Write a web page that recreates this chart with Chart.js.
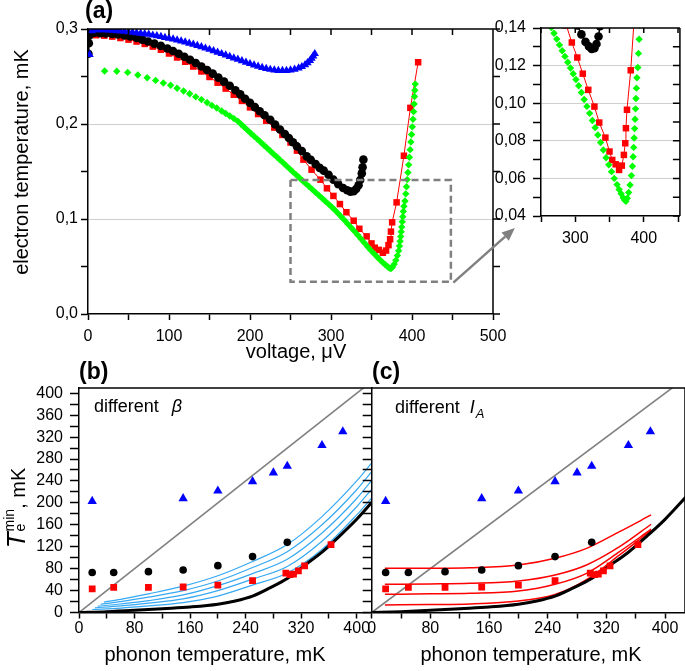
<!DOCTYPE html>
<html>
<head>
<meta charset="utf-8">
<title>Electron temperature minimum</title>
<script src="https://cdn.jsdelivr.net/npm/chart.js@4.4.1/dist/chart.umd.min.js"></script>
<style>
  html, body { margin: 0; padding: 0; background: #fff; }
  body { position: relative; width: 685px; height: 671px; overflow: hidden;
         font-family: "Liberation Sans", Arial, sans-serif; color: #000; }
  canvas { position: absolute; }
  .txt { position: absolute; line-height: 1; white-space: nowrap; }
  .panel { font-weight: bold; font-size: 23px; }
  .title { font-size: 20px; }
  .rot { transform: translate(-50%, -50%) rotate(-90deg); }
  .note { font-size: 18px; }
  .ss { display: inline-block; font-size: 14px; line-height: 0.8; margin-left: 1px; }
  .ss span { display: block; }
</style>
</head>
<body>
<canvas id="chartA" width="530" height="365" style="left:0;top:0"></canvas>
<canvas id="chartInset" width="245" height="260" style="left:440px;top:0"></canvas>
<canvas id="chartB" width="372" height="301" style="left:0;top:370px"></canvas>
<canvas id="chartC" width="330" height="301" style="left:355px;top:370px"></canvas>

<div class="txt panel" style="left:85px;top:-1px">(a)</div>
<div class="txt panel" style="left:79px;top:360px">(b)</div>
<div class="txt panel" style="left:372px;top:360px">(c)</div>

<div class="txt title rot" style="left:21px;top:162px">electron temperature, mK</div>
<div class="txt title" style="left:296px;top:341px;transform:translateX(-50%)">voltage, μV</div>

<div class="txt rot" style="left:16px;top:508px;font-size:20px"><i style="font-size:26px">T</i><span class="ss"><span>min</span><span>e</span></span>, mK</div>
<div class="txt title" style="left:215px;top:644px;transform:translateX(-50%)">phonon temperature, mK</div>
<div class="txt title" style="left:531px;top:644px;transform:translateX(-50%)">phonon temperature, mK</div>

<div class="txt note" style="left:94px;top:397px">different<i style="margin-left:13px">β</i></div>
<div class="txt note" style="left:395px;top:398px">different<i style="margin-left:10px">I</i><i style="font-size:13px;position:relative;top:5px;margin-left:1px">A</i></div>

<script>
// ---- panel (a): electron temperature (mK) vs bias voltage (uV) ----
const blueV = [2, 5, 10, 15, 20, 25, 30, 35, 40, 45, 50, 55, 60, 65, 70, 75, 80, 85, 90, 95,
  100, 105, 110, 115, 120, 125, 130, 135, 140, 145, 150, 155, 160, 165, 170, 175, 180, 185, 190, 195,
  200, 205, 210, 215, 220, 225, 230, 235, 240, 245, 250, 255, 260, 264, 268, 271, 274, 276, 278, 280];
const blueT = [0.273, 0.298, 0.299, 0.299, 0.299, 0.2988, 0.2985, 0.298, 0.298, 0.2975, 0.297, 0.2965, 0.296, 0.2955, 0.295, 0.2943, 0.2935, 0.2928, 0.292, 0.291,
  0.2902, 0.2893, 0.2884, 0.2873, 0.2862, 0.285, 0.2838, 0.2825, 0.2812, 0.2798, 0.2785, 0.277, 0.2755, 0.274, 0.2725, 0.271, 0.2695, 0.268, 0.2665, 0.265,
  0.2635, 0.262, 0.2607, 0.2595, 0.2583, 0.2574, 0.2567, 0.2563, 0.2562, 0.2563, 0.2567, 0.2575, 0.2588, 0.2603, 0.2622, 0.2643, 0.2667, 0.269, 0.2715, 0.274];

const blackV = [0.5, 1, 1.5, 4, 8, 15, 22, 30, 37, 45, 52, 60, 67, 74, 82, 90, 98, 105, 112, 119,
  126, 133, 140, 147, 154, 161, 168, 175, 182, 188, 194, 200, 206, 212, 218, 225, 231, 237, 243, 248,
  253, 258, 264, 270, 275, 281, 286, 291, 297, 303, 309, 315, 320, 324, 328, 331, 334, 336, 338, 339, 340];
const blackT = [0.274, 0.285, 0.293, 0.2955, 0.296, 0.2957, 0.2953, 0.2948, 0.2943, 0.2933, 0.2922, 0.2905, 0.2888, 0.2868, 0.2846, 0.2822, 0.2795, 0.2768, 0.274, 0.2708,
  0.2676, 0.2642, 0.2606, 0.2568, 0.253, 0.2488, 0.2446, 0.2402, 0.2356, 0.2312, 0.2266, 0.2222, 0.2178, 0.2135, 0.2092, 0.2045, 0.1994, 0.1942, 0.1894, 0.1853,
  0.1808, 0.1764, 0.1715, 0.1659, 0.1622, 0.1578, 0.1538, 0.1509, 0.1465, 0.1414, 0.1366, 0.1326, 0.1302, 0.1288, 0.1292, 0.1315, 0.1355, 0.141, 0.148, 0.1545, 0.1625];

const redV = [10, 20, 30, 40, 50, 60, 70, 80, 90, 100, 110, 120, 130, 140, 150, 160, 170, 180, 190, 200,
  210, 220, 230, 240, 250, 258, 266, 276, 287, 295, 303, 311, 319, 328, 335, 344, 350, 354, 359, 364,
  368, 371, 373, 374, 375.5, 381, 390, 398, 407.6];
const redT = [0.2935, 0.293, 0.292, 0.2905, 0.2888, 0.2868, 0.2843, 0.2815, 0.2782, 0.2742, 0.27, 0.2655, 0.2605, 0.2553, 0.2495, 0.2435, 0.2373, 0.2308, 0.2243, 0.2175,
  0.2105, 0.2035, 0.1962, 0.1885, 0.1805, 0.172, 0.1625, 0.1519, 0.1414, 0.1323, 0.1243, 0.1157, 0.1071, 0.0982, 0.0897, 0.0817, 0.0743, 0.0698, 0.0675, 0.0645,
  0.0668, 0.0725, 0.0787, 0.0867, 0.0965, 0.1175, 0.1666, 0.217, 0.265];

const greenV = [20.5, 35.5, 49, 61.5, 73, 83.5, 93, 102, 110, 118, 125.5, 133, 140, 147, 153, 159, 165, 170, 175, 180,
  185, 189, 193, 197, 201, 205, 209, 213, 217, 221, 225, 229, 233, 237, 241, 245, 249, 253, 257, 261,
  265, 269, 273, 277, 281, 285, 289, 293, 297, 301, 305, 309, 313, 317, 321, 325, 329, 333, 337, 341,
  345, 349, 353, 357, 361, 364, 367, 370, 372, 374, 376, 378, 380, 382, 383.5, 384.5, 385.3, 386, 386.7, 387.3,
  388, 388.6, 389.3, 390, 391.3, 392.3, 393.2, 394.1, 395, 395.9, 396.8, 397.7, 398.6, 399.5, 400.4, 401.2, 402, 402.6, 403.1, 403.5, 404];
const greenT = [0.2558, 0.2556, 0.2543, 0.2516, 0.2487, 0.2459, 0.2431, 0.2408, 0.2377, 0.2347, 0.2318, 0.2286, 0.2257, 0.2226, 0.2196, 0.2168, 0.2137, 0.2111, 0.2085, 0.2058,
  0.203, 0.1998, 0.1966, 0.1934, 0.1902, 0.1872, 0.1841, 0.181, 0.1779, 0.1747, 0.1716, 0.1685, 0.1654, 0.1622, 0.1591, 0.1559, 0.1528, 0.1496, 0.1465, 0.1434,
  0.1403, 0.1372, 0.1341, 0.131, 0.1279, 0.1249, 0.1218, 0.1187, 0.1157, 0.1126, 0.1093, 0.1057, 0.102, 0.0983, 0.0946, 0.0908, 0.087, 0.0831, 0.0791, 0.0751,
  0.071, 0.0672, 0.0636, 0.06, 0.0567, 0.0541, 0.0518, 0.0497, 0.0485, 0.0478, 0.0495, 0.0525, 0.0565, 0.0615, 0.0665, 0.0715, 0.0765, 0.0815, 0.0865, 0.0915,
  0.097, 0.1025, 0.108, 0.1135, 0.119, 0.1265, 0.134, 0.1415, 0.149, 0.157, 0.165, 0.173, 0.181, 0.189, 0.197, 0.205, 0.213, 0.221, 0.229, 0.2355, 0.242];

// zoomed region shown in the inset, and the arrow pointing to it (data units of panel a)
const zoomBox = { v0: 250, v1: 448, t0: 0.034, t1: 0.141 };
const zoomArrow = { v0: 451, t0: 0.033, v1: 527, t1: 0.0905 };

// ---- panels (b), (c): minimal electron temperature vs phonon temperature (mK) ----
const triTph = [19, 150, 200, 250, 280, 300, 350, 380];
const triTe = [203, 208, 222, 239, 255, 267, 305, 330];
const circTph = [19, 50, 100, 150, 200, 250, 300];
const circTe = [73, 73, 74.5, 77.5, 85.5, 102, 128];
const sqTph = [19, 50, 100, 150, 200, 250, 298, 304, 309, 316, 325, 363];
const sqTe = [43, 46, 46, 46.5, 50, 58, 72, 69, 70, 76, 85, 124];

const idealTph = [0, 40, 80, 120, 160, 200, 225, 250, 275, 300, 325, 350, 375, 400, 428];
const idealTe = [0, 1.5, 4, 7, 10, 15, 21, 30, 45, 62, 86, 110, 139, 170, 210];

const diagTph = [0, 430];

// fits for different beta (panel b)
const betaStartTph = [36, 31, 27, 23, 19];
const betaStartTe = [19, 15, 11.5, 8.5, 5.5];
const betaTph = [60, 100, 150, 200, 250, 300, 350, 400, 421];
const betaTe1 = [24, 34, 48, 67, 93, 124, 175, 240, 272];
const betaTe2 = [20, 28, 40, 57.5, 82, 111, 160, 224, 256];
const betaTe3 = [15.5, 21.5, 32, 49, 71, 97, 145, 208, 240];
const betaTe4 = [12, 17, 25, 40, 61, 84, 130, 193, 224];
const betaTe5 = [8, 12, 18, 30, 50, 72, 115, 178, 208];

// fits for different I_A (panel c)
const iaTph = [18, 80, 134, 200, 250, 293, 338, 381];
const iaTe1 = [80.6, 80.8, 81.8, 86.7, 99, 117, 147.5, 178];
const iaTe2 = [51.5, 52.2, 53.3, 57.5, 68.4, 86.7, 120, 161];
const iaTe3 = [33.2, 34, 35, 39.2, 51.5, 71.5, 111, 152];
const iaTe4 = [13.7, 14.5, 15.5, 21, 33, 60, 105, 150];

// ---- helpers ----
Chart.defaults.font.family = '"Liberation Sans", Arial, sans-serif';
Chart.defaults.font.size = 16;
Chart.defaults.color = '#000';
Chart.defaults.animation = false;
Chart.defaults.responsive = false;
Chart.defaults.devicePixelRatio = 1;
Chart.defaults.events = [];
Chart.defaults.plugins.legend.display = false;
Chart.defaults.plugins.tooltip.enabled = false;

const pts = (xs, ys) => xs.map((x, i) => ({ x: x, y: ys[i] }));
const isMult = (v, step) => Math.abs(v / step - Math.round(v / step)) < 1e-6;
const fixSize = px => scale => {
  if (scale.isHorizontal()) scale.height = px; else scale.width = px;
};
const BLUE = '#0000ff', RED = '#ff0000', GREEN = '#00ff00', GRAY = '#808080', SKY = '#36a9f2';

// frame on top/right sides, with tick marks (positive = inward for top, outward for right)
const framePlugin = {
  id: 'frame',
  afterDatasetsDraw(chart, args, opts) {
    const { ctx, chartArea: a, scales } = chart;
    ctx.save();
    ctx.strokeStyle = '#000';
    ctx.lineWidth = 1.5;
    ctx.beginPath();
    if (opts.top !== undefined) {
      ctx.moveTo(a.left, a.top); ctx.lineTo(a.right, a.top);
      if (opts.top) scales.x.ticks.forEach(t => {
        const px = scales.x.getPixelForValue(t.value);
        ctx.moveTo(px, a.top); ctx.lineTo(px, a.top + opts.top);
      });
    }
    if (opts.right !== undefined) {
      ctx.moveTo(a.right, a.top); ctx.lineTo(a.right, a.bottom);
      if (opts.right) scales.y.ticks.forEach(t => {
        const py = scales.y.getPixelForValue(t.value);
        ctx.moveTo(a.right, py); ctx.lineTo(a.right + opts.right, py);
      });
    }
    ctx.stroke();
    ctx.restore();
  }
};

// dashed box + arrow marking the zoomed region
const zoomPlugin = {
  id: 'zoomMark',
  afterDatasetsDraw(chart, args, opts) {
    if (!opts.box) return;
    const { ctx, scales: { x, y } } = chart;
    const b = opts.box, ar = opts.arrow;
    ctx.save();
    ctx.strokeStyle = GRAY;
    ctx.lineWidth = 2.5;
    ctx.setLineDash([7, 4]);
    const x0 = x.getPixelForValue(b.v0), x1 = x.getPixelForValue(b.v1);
    const y0 = y.getPixelForValue(b.t0), y1 = y.getPixelForValue(b.t1);
    ctx.strokeRect(x0, y1, x1 - x0, y0 - y1);
    ctx.setLineDash([]);
    const ax0 = x.getPixelForValue(ar.v0), ay0 = y.getPixelForValue(ar.t0);
    const ax1 = x.getPixelForValue(ar.v1), ay1 = y.getPixelForValue(ar.t1);
    const ang = Math.atan2(ay1 - ay0, ax1 - ax0);
    const hl = 13, hw = 5.5;
    const bx = ax1 - hl * Math.cos(ang), by = ay1 - hl * Math.sin(ang);
    ctx.beginPath();
    ctx.moveTo(ax0, ay0); ctx.lineTo(bx, by);
    ctx.stroke();
    ctx.fillStyle = GRAY;
    ctx.beginPath();
    ctx.moveTo(ax1, ay1);
    ctx.lineTo(bx + hw * Math.sin(ang), by - hw * Math.cos(ang));
    ctx.lineTo(bx - hw * Math.sin(ang), by + hw * Math.cos(ang));
    ctx.closePath();
    ctx.fill();
    ctx.restore();
  }
};
Chart.register(framePlugin, zoomPlugin);

function voltageSets(clip) {
  return [
    { data: pts(greenV, greenT), pointStyle: 'rectRot', pointRadius: 3.7, backgroundColor: GREEN, borderWidth: 0, pointBorderWidth: 0, showLine: false, clip: clip },
    { data: pts(blueV, blueT), pointStyle: 'triangle', pointRadius: 4.8, backgroundColor: BLUE, pointBorderWidth: 0, showLine: false, clip: clip },
    { data: pts(blackV, blackT), pointStyle: 'circle', pointRadius: 4.3, backgroundColor: '#000', borderColor: '#000', borderWidth: 1.5, pointBorderWidth: 0, showLine: true, clip: clip },
    { data: pts(redV, redT), pointStyle: 'rect', pointRadius: 4.6, backgroundColor: RED, borderColor: RED, borderWidth: 1, pointBorderWidth: 0, showLine: true, clip: clip }
  ];
}

const axisLine = { color: '#000', width: 1.5 };

// ---- panel (a) main ----
new Chart(document.getElementById('chartA'), {
  type: 'scatter',
  data: { datasets: voltageSets() },
  options: {
    layout: { autoPadding: false, padding: { left: 0, right: 37, top: 29, bottom: 0 } },
    scales: {
      x: {
        type: 'linear', min: 0, max: 500,
        ticks: { stepSize: 50, padding: 7, autoSkip: false, maxRotation: 0, callback: v => isMult(v, 100) ? String(v) : '' },
        grid: { drawOnChartArea: false, tickLength: 6, tickColor: '#000', tickWidth: 1.5 },
        border: axisLine,
        afterFit: fixSize(51)
      },
      y: {
        type: 'linear', min: 0, max: 0.3,
        ticks: { stepSize: 0.05, padding: 3, autoSkip: false, callback: v => isMult(v, 0.1) ? v.toFixed(1).replace('.', ',') : '' },
        grid: {
          color: ctx => (ctx.tick && isMult(ctx.tick.value, 0.1) && ctx.tick.value > 0.01 && ctx.tick.value < 0.29) ? '#cfcfcf' : 'rgba(0,0,0,0)',
          lineWidth: 1, tickLength: 7, tickColor: '#000', tickWidth: 1.5
        },
        border: axisLine,
        afterFit: fixSize(88)
      }
    },
    plugins: {
      frame: { top: 6, right: 7 },
      zoomMark: { box: zoomBox, arrow: zoomArrow }
    }
  }
});

// ---- panel (a) inset ----
new Chart(document.getElementById('chartInset'), {
  type: 'scatter',
  data: { datasets: voltageSets(0) },
  options: {
    layout: { autoPadding: false, padding: { left: 0, right: 0, top: 28, bottom: 0 } },
    scales: {
      x: {
        type: 'linear', min: 250, max: 452.8,
        ticks: { stepSize: 50, padding: 7, includeBounds: false, autoSkip: false, maxRotation: 0, callback: v => isMult(v, 100) ? String(v) : '' },
        grid: { drawOnChartArea: false, tickLength: 6, tickColor: '#000', tickWidth: 1.5 },
        border: axisLine,
        afterFit: fixSize(44)
      },
      y: {
        type: 'linear', min: 0.04, max: 0.14,
        ticks: { stepSize: 0.01, padding: 7, autoSkip: false, callback: v => isMult(v, 0.02) ? v.toFixed(2).replace('.', ',') : '' },
        grid: {
          color: ctx => (ctx.tick && isMult(ctx.tick.value, 0.02) && ctx.tick.value > 0.045 && ctx.tick.value < 0.135) ? '#cfcfcf' : 'rgba(0,0,0,0)',
          lineWidth: 1, tickLength: 8, tickColor: '#000', tickWidth: 1.5
        },
        border: axisLine,
        afterFit: fixSize(101)
      }
    },
    plugins: { frame: { top: 5, right: -7 } }
  }
});

// ---- panels (b) and (c) ----
function markerSets() {
  return [
    { data: pts(triTph, triTe), pointStyle: 'triangle', pointRadius: 5.4, backgroundColor: BLUE, pointBorderWidth: 0, showLine: false },
    { data: pts(circTph, circTe), pointStyle: 'circle', pointRadius: 3.8, backgroundColor: '#000', pointBorderWidth: 0, showLine: false },
    { data: pts(sqTph, sqTe), pointStyle: 'rect', pointRadius: 4.8, backgroundColor: RED, pointBorderWidth: 0, showLine: false }
  ];
}
function curve(xs, ys, color, width) {
  return { data: pts(xs, ys), showLine: true, pointRadius: 0, borderColor: color, borderWidth: width,
    cubicInterpolationMode: 'monotone', clip: 0 };
}
function tempScales(xmax, yWidth, showYLabels) {
  return {
    x: {
      type: 'linear', min: 0, max: xmax,
      ticks: { stepSize: 40, padding: 0, includeBounds: false, autoSkip: false, maxRotation: 0, callback: v => isMult(v, 80) ? String(v) : '' },
      grid: { drawOnChartArea: false, tickLength: 6, tickColor: '#000', tickWidth: 1.5 },
      border: axisLine,
      afterFit: fixSize(58.5)
    },
    y: {
      type: 'linear', min: 0, max: 409.6,
      ticks: { stepSize: 20, padding: 7, includeBounds: false, autoSkip: false, callback: v => (showYLabels && isMult(v, 40)) ? String(v) : '' },
      grid: { drawOnChartArea: false, tickLength: 9, tickColor: '#000', tickWidth: 1.5 },
      border: axisLine,
      afterFit: fixSize(yWidth)
    }
  };
}

const betaFits = [betaTe1, betaTe2, betaTe3, betaTe4, betaTe5].map((te, i) =>
  curve([betaStartTph[i]].concat(betaTph), [betaStartTe[i]].concat(te), SKY, 1.2));

new Chart(document.getElementById('chartB'), {
  type: 'scatter',
  data: {
    datasets: markerSets().concat([curve(idealTph, idealTe, '#000', 3)], betaFits, [curve(diagTph, diagTph, GRAY, 1.6)])
  },
  options: {
    layout: { autoPadding: false, padding: { left: 0, right: 1, top: 18, bottom: 0 } },
    scales: tempScales(420.6, 79, true),
    plugins: { frame: { top: 0 } }
  }
});

const iaFits = [iaTe1, iaTe2, iaTe3, iaTe4].map(te => curve(iaTph, te, RED, 1.5));

new Chart(document.getElementById('chartC'), {
  type: 'scatter',
  data: {
    datasets: markerSets().concat([curve(idealTph, idealTe, '#000', 3)], iaFits, [curve(diagTph, diagTph, GRAY, 1.6)])
  },
  options: {
    layout: { autoPadding: false, padding: { left: 0, right: 0, top: 18, bottom: 0 } },
    scales: tempScales(427.2, 16.7, false),
    plugins: { frame: { top: 0, right: 0 } }
  }
});
</script>
</body>
</html>
